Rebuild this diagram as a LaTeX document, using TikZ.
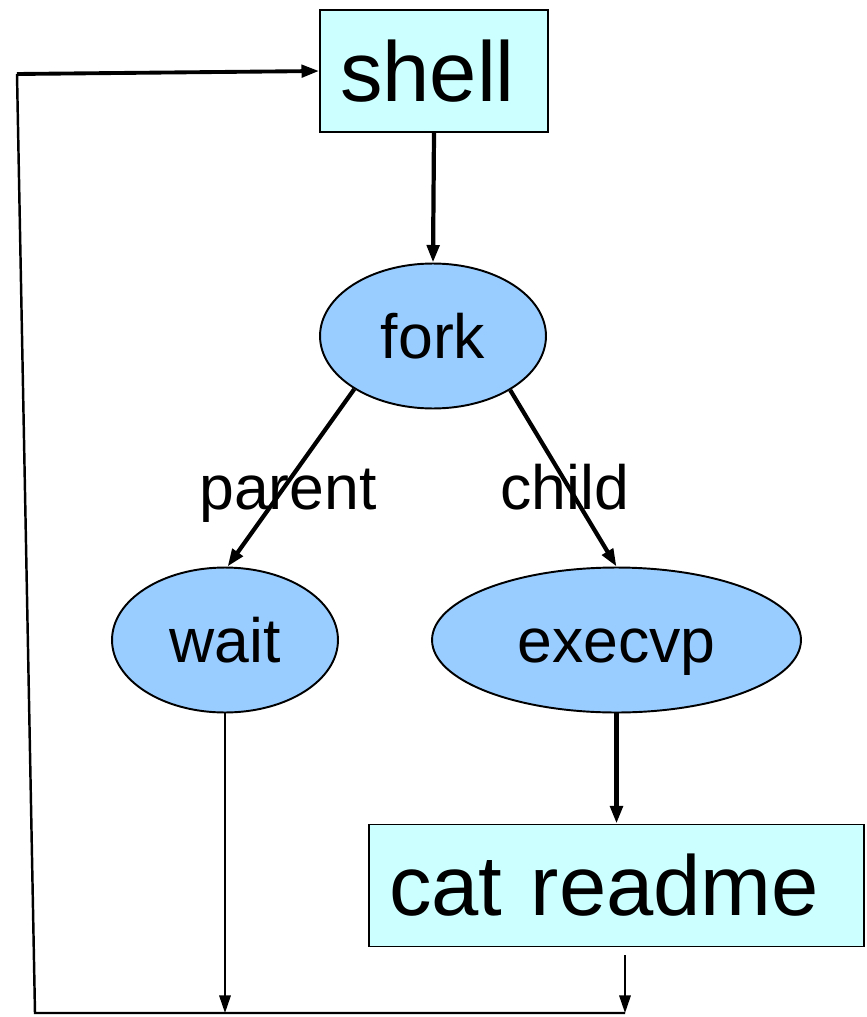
\documentclass[tikz,border=0pt]{standalone}
\usepackage{fontspec}
\setmainfont{Liberation Sans}
\usepackage{tikz}
\usetikzlibrary{shapes.geometric}
\usetikzlibrary{arrows.meta}
\definecolor{boxcyan}{HTML}{CCFFFF}
\definecolor{ovalblue}{HTML}{99CCFF}

\begin{document}
\begin{tikzpicture}[x=0.02cm,y=-0.02cm,
  box/.style={draw, line width=1.1pt, fill=boxcyan, minimum height=2.44cm, inner xsep=0.4cm, inner ysep=0pt, align=left, font=\fontsize{48.4}{58}\selectfont},
  oval/.style={draw, ellipse, line width=1.1pt, fill=ovalblue, minimum height=2.9cm, inner sep=0pt, text height=25.6pt, text depth=0pt, font=\fontsize{35.6}{43}\selectfont},
  flow/.style={line width=2.4pt, -{Triangle[length=10pt,width=7pt]}},
  back/.style={line width=1.1pt, -{Triangle[length=10pt,width=6.5pt]}},
  tag/.style={anchor=base, font=\fontsize{35.6}{43}\selectfont}]
\useasboundingbox (0,0) rectangle (866,1017);

\node[box, text width=3.76cm] (shell) at (434,71) {shell};
\node[oval, minimum width=4.52cm] (fork) at (433,336) {fork};
\node[oval, minimum width=4.52cm] (wait) at (225,640) {wait};
\node[oval, minimum width=7.38cm] (execvp) at (616.5,640) {execvp};
\node[box, text width=9.1cm] (cat) at (616.5,885.5) {cat readme};

\node[tag] (parent) at (288,509) {parent};
\node[tag] (child) at (565,509) {child};

\coordinate (waitend) at (225,1013);
\coordinate (catstart) at (625,955);
\coordinate (catend) at (625,1013);
\coordinate (bottomleft) at (35,1013);
\coordinate (topleft) at (17,74);

\draw [flow] (shell.south) -- (fork.north);
\draw [flow] (fork.214) -- (wait.88);
\draw [flow] (fork.-35) -- (execvp.north);
\draw [flow] (execvp.south) -- (cat.north);

\draw [back] (wait.south) -- (waitend);
\draw [back] (catstart) -- (catend);
\draw [line width=1.4pt] (catend) -- (bottomleft) -- (topleft);
\draw [line width=2.2pt, -{Triangle[length=10pt,width=7pt]}] (topleft) -- (shell.west);

\end{tikzpicture}
\end{document}
